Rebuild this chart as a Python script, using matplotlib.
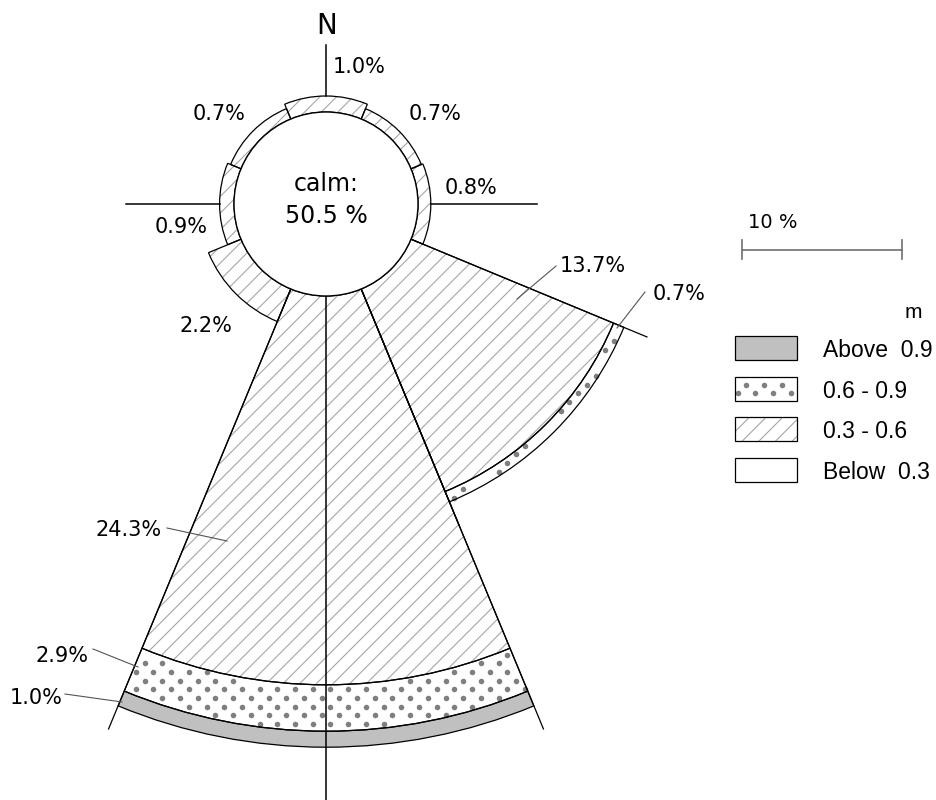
import numpy as np
import matplotlib.pyplot as plt
from matplotlib.patches import Wedge, Rectangle, Circle

plt.rcParams['hatch.linewidth'] = 0.8

# wave rose data (% of time), 8 directions
directions = ['N', 'NE', 'E', 'SE', 'S', 'SW', 'W', 'NW']
bearings = [0, 45, 90, 135, 180, 225, 270, 315]
below_03 = [0.0, 0.0, 0.0, 0.0, 0.0, 0.0, 0.0, 0.0]
h_03_06 = [1.0, 0.7, 0.8, 13.7, 24.3, 2.2, 0.9, 0.7]
h_06_09 = [0.0, 0.0, 0.0, 0.7, 2.9, 0.0, 0.0, 0.0]
above_09 = [0.0, 0.0, 0.0, 0.0, 1.0, 0.0, 0.0, 0.0]
calm = 50.5
legend_labels = ['Above  0.9', '0.6 - 0.9', '0.3 - 0.6', 'Below  0.3']

# layout (pixels)
cx, cy = 326, 204      # rose centre
r0 = 92                # calm circle radius
scale = 16.0           # px per %
sector = 45.0

HATCH_C = '#a6a6a6'
DOT_C = '#7f7f7f'
GRAY = '#c0c0c0'
NUM_FONT = 'DejaVu Sans'
LEG_FONT = 'Liberation Sans'

fig = plt.figure(figsize=(9.36, 8), dpi=100)
ax = fig.add_axes([0, 0, 1, 1])
ax.set_xlim(0, 936)
ax.set_ylim(800, 0)
ax.axis('off')

# staggered dot grid used for the 0.6 - 0.9 class
grid = []
for k, gy in enumerate(np.arange(2, 800, 8.7)):
    gx = np.arange(3, 936, 17.7) + (8.85 if k % 2 else 0.0)
    grid += [(x, gy) for x in gx]
grid = np.array(grid)


def dot_fill(patch):
    path = patch.get_patch_transform().transform_path(patch.get_path())
    ok = path.contains_points(grid)
    for dx, dy in [(1.8, 0), (-1.8, 0), (0, 1.8), (0, -1.8)]:
        ok &= path.contains_points(grid + [dx, dy])
    pts = grid[ok]
    ax.scatter(pts[:, 0], pts[:, 1], s=16, color=DOT_C, linewidths=0, zorder=3)


def draw_segment(patch_fn, kind):
    if kind == 'hatch':
        ax.add_patch(patch_fn(facecolor='white', edgecolor=HATCH_C, lw=0, hatch='//', zorder=2))
    elif kind == 'dots':
        p = patch_fn(facecolor='white', lw=0, zorder=2)
        ax.add_patch(p)
        dot_fill(p)
    elif kind == 'gray':
        ax.add_patch(patch_fn(facecolor=GRAY, lw=0, zorder=2))
    else:
        ax.add_patch(patch_fn(facecolor='white', lw=0, zorder=2))
    ax.add_patch(patch_fn(fill=False, edgecolor='black', lw=0.9, zorder=4))


kinds = ['white', 'hatch', 'dots', 'gray']
outer = []
for i, b in enumerate(bearings):
    t1 = b - 90 - sector / 2
    t2 = b - 90 + sector / 2
    r = r0
    for vals, kind in zip([below_03, h_03_06, h_06_09, above_09], kinds):
        v = vals[i]
        if v <= 0:
            continue
        r_out = r + v * scale
        draw_segment(lambda r_out=r_out, r=r, t1=t1, t2=t2, **kw:
                     Wedge((cx, cy), r_out, t1, t2, width=r_out - r, **kw), kind)
        r = r_out
    outer.append(r)

# sector edges extended past the long sectors
for i, b in enumerate(bearings):
    if outer[i] - r0 > 5 * scale:
        for edge in [b - sector / 2, b + sector / 2]:
            a = np.deg2rad(edge)
            re = outer[i] + 25
            ax.plot([cx + r0 * np.sin(a), cx + re * np.sin(a)],
                    [cy - r0 * np.cos(a), cy - re * np.cos(a)], color='black', lw=0.9, zorder=5)

# compass axes
ax.plot([cx, cx], [cy - outer[0], cy - 159], color='black', lw=1.1, zorder=5)
ax.plot([cx + outer[2], cx + 211], [cy, cy], color='black', lw=1.1, zorder=5)
ax.plot([cx - outer[6], cx - 200], [cy, cy], color='black', lw=1.1, zorder=5)
ax.plot([cx, cx], [cy + r0, 800], color='black', lw=1.1, zorder=5)

# calm circle
ax.add_patch(Circle((cx, cy), r0, facecolor='white', edgecolor='black', lw=1.0, zorder=6))
ax.text(cx, 191, 'calm:', ha='center', va='baseline', fontsize=17, family=NUM_FONT, zorder=7)
ax.text(cx, 223, f'{calm} %', ha='center', va='baseline', fontsize=17, family=NUM_FONT, zorder=7)
ax.text(327, 34, 'N', ha='center', va='baseline', fontsize=20, family=NUM_FONT)

# value labels
lab = [
    (f'{h_03_06[0]}%', 333, 73, 'left'),
    (f'{h_03_06[7]}%', 219.5, 120, 'center'),
    (f'{h_03_06[1]}%', 435, 120, 'center'),
    (f'{h_03_06[2]}%', 445, 194, 'left'),
    (f'{h_03_06[6]}%', 181.5, 233, 'center'),
    (f'{h_03_06[5]}%', 206, 332, 'center'),
    (f'{h_03_06[3]}%', 593, 272, 'center'),
    (f'{h_06_09[3]}%', 653, 300, 'left'),
    (f'{h_03_06[4]}%', 128.5, 536, 'center'),
    (f'{h_06_09[4]}%', 62, 662, 'center'),
    (f'{above_09[4]}%', 36.5, 704, 'center'),
]
for t, x, y, ha in lab:
    ax.text(x, y, t, ha=ha, va='baseline', fontsize=15, family=NUM_FONT)

leaders = [((517, 299), (556, 266)), ((617, 328), (645, 292)), ((167, 528), (227, 541)),
           ((93, 649), (138, 667)), ((65, 694), (122, 702))]
for (x1, y1), (x2, y2) in leaders:
    ax.plot([x1, x2], [y1, y2], color='#555555', lw=0.8, zorder=6)

# scale bar
sx = 742
ax.plot([sx, sx + 10 * scale], [250, 250], color='#707070', lw=1.2)
ax.plot([sx, sx], [240, 259], color='#707070', lw=1.2)
ax.plot([sx + 10 * scale, sx + 10 * scale], [240, 259], color='#707070', lw=1.2)
ax.text(748, 228, '10 %', ha='left', va='baseline', fontsize=14, family=NUM_FONT)

# legend
ax.text(913, 318, 'm', ha='center', va='baseline', fontsize=15, family=LEG_FONT)
for j, (t, kind) in enumerate(zip(legend_labels, ['gray', 'dots', 'hatch', 'white'])):
    top = 336 + j * 40.7
    draw_segment(lambda top=top, **kw: Rectangle((735, top), 62, 24, **kw), kind)
    ax.text(823, top + 21, t, ha='left', va='baseline', fontsize=16.5, family=LEG_FONT)

fig.savefig('out.png', dpi=100)
